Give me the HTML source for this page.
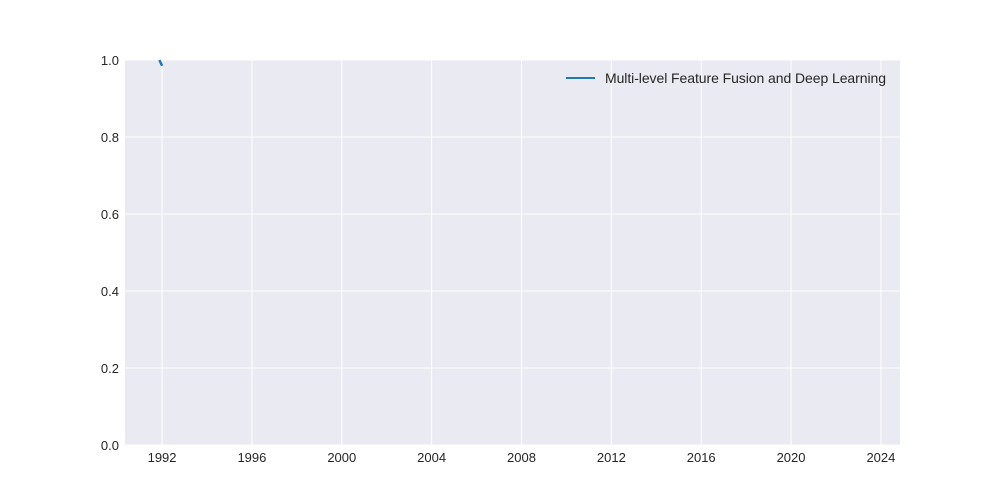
<!DOCTYPE html>
<html><head><meta charset="utf-8"><style>
body{margin:0;background:#fff;}
svg{display:block;font-family:"Liberation Sans",Arial,sans-serif;}
</style></head><body>
<svg id="chart" width="1000" height="500">
<rect x="125" y="60" width="775" height="385" fill="#eaeaf2"/>
<g id="grid"></g><g id="axes"></g><g id="series"></g>
<g>
<line x1="566" y1="78" x2="595" y2="78" stroke="#1f77b4" stroke-width="2"/>
<text x="605" y="83" font-size="14" fill="#262626" textLength="281">Multi-level Feature Fusion and Deep Learning</text>
</g>
</svg>
<script>
const xTicks=[1992,1996,2000,2004,2008,2012,2016,2020,2024];
const yTicks=[0,0.2,0.4,0.6,0.8,1.0];
const years=[1991.88,1992.0];
const values=[1.0,0.985];
const X0=125,X1=900,Y0=445,Y1=60;
const xMin=1990.35,xMax=2024.85;
const sx=v=>X0+(v-xMin)/(xMax-xMin)*(X1-X0);
const sy=v=>Y0-(v-0)/(1-0)*(Y0-Y1);
const NS="http://www.w3.org/2000/svg";
const grid=document.getElementById('grid'),axes=document.getElementById('axes'),ser=document.getElementById('series');
function mk(tag,attrs,parent){const e=document.createElementNS(NS,tag);for(const k in attrs)e.setAttribute(k,attrs[k]);parent.appendChild(e);return e;}
xTicks.forEach(t=>{
 const x=sx(t);
 const g=mk('line',{x1:x,x2:x,y1:Y1,y2:Y0,stroke:'#fff','stroke-width':1},grid);
 
 
 const tx=mk('text',{x:x,y:462,'font-size':13,fill:'#262626','text-anchor':'middle'},axes);
 tx.textContent=t;
 
 
});
yTicks.forEach(t=>{
 const y=sy(t);
 const g=mk('line',{x1:X0,x2:X1,y1:y,y2:y,stroke:'#fff','stroke-width':1},grid);
 
 
 const tx=mk('text',{x:119,y:y+5,'font-size':13,fill:'#262626','text-anchor':'end'},axes);
 tx.textContent=t.toFixed(1);
 
 
});
const pts=years.map((y,i)=>sx(y)+','+sy(values[i])).join(' ');
const pl=mk('polyline',{points:pts,fill:'none',stroke:'#1f77b4','stroke-width':2.5},ser);


</script>
</body></html>
